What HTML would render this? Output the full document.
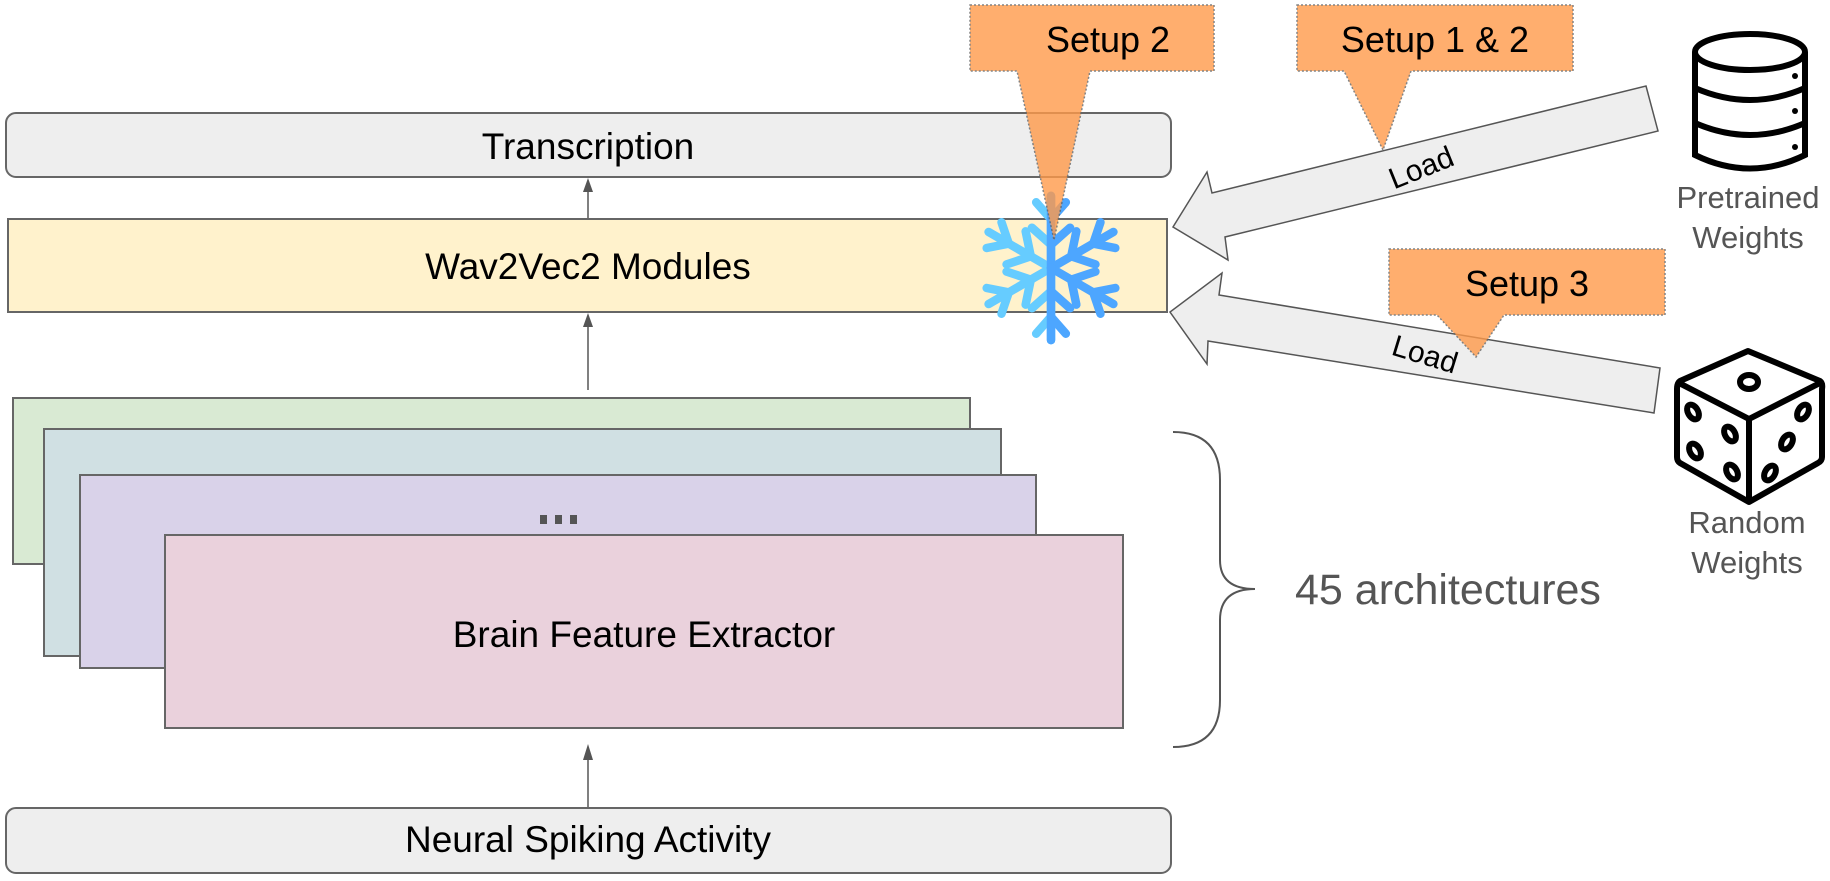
<!DOCTYPE html>
<html><head><meta charset="utf-8"><style>
html,body{margin:0;padding:0;background:#fff;}
svg{display:block;}
text{font-family:"Liberation Sans",Arial,sans-serif;}
</style></head><body>
<svg width="1830" height="881" viewBox="0 0 1830 881" xmlns="http://www.w3.org/2000/svg">

<!-- Transcription -->
<rect x="6" y="113" width="1165" height="64" rx="10" fill="#eeeeee" stroke="#666" stroke-width="2"/>
<text x="588" y="159" font-size="37" text-anchor="middle" fill="#000">Transcription</text>

<!-- arrows vertical -->
<line x1="588" y1="219" x2="588" y2="190" stroke="#555" stroke-width="1.5"/>
<polygon points="588,178 583,192 593,192" fill="#555"/>
<line x1="588" y1="390" x2="588" y2="325" stroke="#555" stroke-width="1.5"/>
<polygon points="588,313 583,327 593,327" fill="#555"/>
<line x1="588" y1="808" x2="588" y2="758" stroke="#555" stroke-width="1.5"/>
<polygon points="588,744 583,760 593,760" fill="#555"/>

<!-- Wav2Vec2 -->
<rect x="8" y="219" width="1159" height="93" fill="#fff2cc" stroke="#666" stroke-width="2"/>
<text x="588" y="279" font-size="37" text-anchor="middle" fill="#000">Wav2Vec2 Modules</text>

<!-- stacked boxes -->
<rect x="13" y="398" width="957" height="166" fill="#d9ead3" stroke="#666" stroke-width="2"/>
<rect x="44" y="429" width="957" height="227" fill="#d0e0e3" stroke="#666" stroke-width="2"/>
<rect x="80" y="475" width="956" height="193" fill="#d9d2e9" stroke="#666" stroke-width="2"/>
<rect x="540" y="515" width="7" height="9" fill="#555"/>
<rect x="555" y="515" width="7" height="9" fill="#555"/>
<rect x="570" y="515" width="7" height="9" fill="#555"/>
<rect x="165" y="535" width="958" height="193" fill="#ead1dc" stroke="#666" stroke-width="2"/>
<text x="644" y="647" font-size="37" text-anchor="middle" fill="#000">Brain Feature Extractor</text>

<!-- Neural spiking -->
<rect x="6" y="808" width="1165" height="65" rx="10" fill="#eeeeee" stroke="#666" stroke-width="2"/>
<text x="588" y="852" font-size="37" text-anchor="middle" fill="#000">Neural Spiking Activity</text>

<!-- brace -->
<path d="M1173,432 Q1220,432 1220,480 L1220,560 Q1220,589 1255,589 Q1220,589 1220,620 L1220,700 Q1220,747 1173,747" fill="none" stroke="#555" stroke-width="2"/>
<text x="1295" y="604" font-size="43" fill="#555">45 architectures</text>

<!-- Load arrows -->
<polygon points="1646,86 1658,131 1225,237 1228,260 1173,227 1207,172 1212,193" fill="#eeeeee" stroke="#555" stroke-width="1.5"/>
<text x="0" y="0" font-size="30" fill="#000" text-anchor="middle" transform="translate(1425,177) rotate(-22)">Load</text>
<polygon points="1660,368 1654,413 1208,341 1207,364 1170,312 1222,273 1219,295" fill="#eeeeee" stroke="#555" stroke-width="1.5"/>
<text x="0" y="0" font-size="30" fill="#000" text-anchor="middle" transform="translate(1422,364) rotate(17)">Load</text>

<!-- snowflake -->
<g stroke-width="8" stroke-linecap="round" fill="none" transform="translate(1051,268) scale(1.06)">
<g stroke="#66ccff">
<g transform="rotate(0)"><line x1="0" y1="0" x2="0" y2="-68"/><polyline points="-14,-62 0,-46"/><polyline points="-18,-38 0,-22"/></g>
<g transform="rotate(-60)"><line x1="0" y1="0" x2="0" y2="-68"/><polyline points="-14,-62 0,-46 14,-62"/><polyline points="-18,-38 0,-22 18,-38"/></g>
<g transform="rotate(-120)"><line x1="0" y1="0" x2="0" y2="-68"/><polyline points="-14,-62 0,-46 14,-62"/><polyline points="-18,-38 0,-22 18,-38"/></g>
<g transform="rotate(180)"><line x1="0" y1="0" x2="0" y2="-68"/><polyline points="14,-62 0,-46"/><polyline points="18,-38 0,-22"/></g>
</g>
<g stroke="#4da6ff">
<g transform="rotate(0)"><line x1="0" y1="0" x2="0" y2="-68"/><polyline points="14,-62 0,-46"/><polyline points="18,-38 0,-22"/></g>
<g transform="rotate(60)"><line x1="0" y1="0" x2="0" y2="-68"/><polyline points="-14,-62 0,-46 14,-62"/><polyline points="-18,-38 0,-22 18,-38"/></g>
<g transform="rotate(120)"><line x1="0" y1="0" x2="0" y2="-68"/><polyline points="-14,-62 0,-46 14,-62"/><polyline points="-18,-38 0,-22 18,-38"/></g>
<g transform="rotate(180)"><line x1="0" y1="0" x2="0" y2="-68"/><polyline points="-14,-62 0,-46"/><polyline points="-18,-38 0,-22"/></g>
</g>
</g>

<!-- callouts -->
<g opacity="0.8">
<polygon points="970,5 1214,5 1214,71 1090,71 1054,240 1017,71 970,71" fill="#ff9a4a" stroke="#666" stroke-width="1.5" stroke-dasharray="2,2"/>
<polygon points="1297,5 1573,5 1573,71 1411,71 1383,150 1344,71 1297,71" fill="#ff9a4a" stroke="#666" stroke-width="1.5" stroke-dasharray="2,2"/>
<polygon points="1389,249 1665,249 1665,315 1504,315 1476,357 1437,315 1389,315" fill="#ff9a4a" stroke="#666" stroke-width="1.5" stroke-dasharray="2,2"/>
</g>
<text x="1108" y="52" font-size="36" text-anchor="middle" fill="#000">Setup 2</text>
<text x="1435" y="52" font-size="36" text-anchor="middle" fill="#000">Setup 1 &amp; 2</text>
<text x="1527" y="296" font-size="36" text-anchor="middle" fill="#000">Setup 3</text>

<!-- database -->
<g fill="none" stroke="#000" stroke-width="6">
<ellipse cx="1750" cy="52" rx="55" ry="18"/>
<path d="M1695,52 L1695,155 Q1750,182 1805,155 L1805,52"/>
<path d="M1695,88 Q1750,112 1805,88"/>
<path d="M1695,123 Q1750,147 1805,123"/>
</g>
<circle cx="1795" cy="76" r="3" fill="#000"/>
<circle cx="1795" cy="111" r="3" fill="#000"/>
<circle cx="1795" cy="147" r="3" fill="#000"/>
<text x="1748" y="208" font-size="31" text-anchor="middle" fill="#555">Pretrained</text>
<text x="1748" y="248" font-size="31" text-anchor="middle" fill="#555">Weights</text>

<!-- dice -->
<g fill="none" stroke="#000" stroke-width="6" stroke-linejoin="round" transform="translate(0,9)">
<path d="M1748,342 L1820,372 Q1823,374 1822,380 L1822,448 Q1822,452 1818,454 L1749,493 L1680,454 Q1677,452 1677,448 L1677,380 Q1677,374 1680,372 Z"/>
<path d="M1679,374 L1749,410 L1820,374 M1749,410 L1749,493"/>
<ellipse cx="1749" cy="373" rx="9" ry="7"/>
<ellipse cx="1693" cy="403" rx="5" ry="8" transform="rotate(-30 1693 403)"/>
<ellipse cx="1730" cy="425" rx="5" ry="8" transform="rotate(-30 1730 425)"/>
<ellipse cx="1695" cy="442" rx="5" ry="8" transform="rotate(-30 1695 442)"/>
<ellipse cx="1732" cy="463" rx="5" ry="8" transform="rotate(-30 1732 463)"/>
<ellipse cx="1803" cy="403" rx="5" ry="8" transform="rotate(30 1803 403)"/>
<ellipse cx="1787" cy="433" rx="5" ry="8" transform="rotate(30 1787 433)"/>
<ellipse cx="1770" cy="464" rx="5" ry="8" transform="rotate(30 1770 464)"/>
</g>
<text x="1747" y="533" font-size="31" text-anchor="middle" fill="#555">Random</text>
<text x="1747" y="573" font-size="31" text-anchor="middle" fill="#555">Weights</text>
</svg>
</body></html>
